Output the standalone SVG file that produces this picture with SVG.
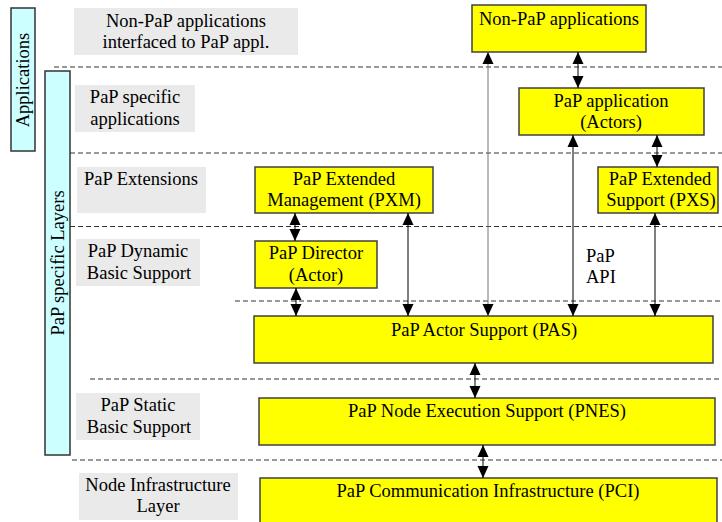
<svg xmlns="http://www.w3.org/2000/svg" width="722" height="522" viewBox="0 0 722 522" font-family="Liberation Serif, serif" font-size="18.5">
<style>
text{fill:#000;text-anchor:middle}
.lbl{fill:#eaeaea;stroke:none}
.side{fill:#ccffff;stroke:#333;stroke-width:1.5}
.node{fill:#ffff00;stroke:#404040;stroke-width:1.5}
.dash{stroke:#333;stroke-width:1;stroke-dasharray:5 3;fill:none}
.con{stroke:#000;stroke-width:1;fill:none;marker-start:url(#ah);marker-end:url(#ah)}
.gray{stroke:#777}
</style>
<defs>
<marker id="ah" markerUnits="userSpaceOnUse" markerWidth="12" markerHeight="14" viewBox="0 0 12 14" refX="12" refY="7" orient="auto-start-reverse">
<path d="M0,1.5 L12,7 L0,12.5 Z" fill="#000"/>
</marker>
</defs>
<g id="layers">
<rect class="lbl" x="74" y="8" width="224" height="47"/>
<text x="186" y="27">Non-PaP applications</text>
<text x="186" y="48">interfaced to PaP appl.</text>
<rect class="lbl" x="75" y="85" width="120" height="47"/>
<text x="135" y="103">PaP specific</text>
<text x="135" y="125">applications</text>
<rect class="lbl" x="77" y="167" width="129" height="46"/>
<text x="141" y="185">PaP Extensions</text>
<rect class="lbl" x="76" y="239" width="124" height="47"/>
<text x="138" y="257">PaP Dynamic</text>
<text x="139" y="279">Basic Support</text>
<rect class="lbl" x="76" y="393" width="124" height="47"/>
<text x="138" y="411">PaP Static</text>
<text x="139" y="433">Basic Support</text>
<rect class="lbl" x="79" y="473" width="159" height="47"/>
<text x="158" y="491">Node Infrastructure</text>
<text x="158" y="512">Layer</text>
</g>
<g id="side-applications">
<rect class="side" x="11" y="8" width="24" height="143"/>
<text transform="translate(29,80) rotate(-90)">Applications</text>
</g>
<g id="side-pap-layers">
<rect class="side" x="45" y="71" width="25" height="384"/>
<text transform="translate(64,263) rotate(-90)">PaP specific Layers</text>
</g>
<g id="separators">
<line class="dash" x1="54" y1="67" x2="722" y2="67"/>
<line class="dash" x1="70" y1="153" x2="722" y2="153"/>
<line class="dash" x1="70" y1="226.5" x2="722" y2="226.5"/>
<line class="dash" x1="235" y1="301" x2="722" y2="301"/>
<line class="dash" x1="90" y1="379" x2="722" y2="379"/>
<line class="dash" x1="72" y1="460" x2="722" y2="460"/>
</g>
<g id="non-pap-apps">
<rect class="node" x="472" y="5" width="174" height="47"/>
<text x="559" y="25">Non-PaP applications</text>
</g>
<g id="pap-application">
<rect class="node" x="519" y="88" width="185" height="47"/>
<text x="611" y="107">PaP application</text>
<text x="611" y="128">(Actors)</text>
</g>
<g id="pxm">
<rect class="node" x="255" y="167" width="178" height="46"/>
<text x="344" y="185">PaP Extended</text>
<text x="344" y="206">Management (PXM)</text>
</g>
<g id="pxs">
<rect class="node" x="598" y="167" width="120" height="46"/>
<text x="660" y="185">PaP Extended</text>
<text x="661" y="206">Support (PXS)</text>
</g>
<g id="director">
<rect class="node" x="255" y="241" width="122" height="47"/>
<text x="316" y="259">PaP Director</text>
<text x="316" y="281">(Actor)</text>
</g>
<g id="pas">
<rect class="node" x="254" y="316" width="459" height="47"/>
<text x="484" y="336">PaP Actor Support (PAS)</text>
</g>
<g id="pnes">
<rect class="node" x="259" y="398" width="456" height="47"/>
<text x="487" y="417">PaP Node Execution Support (PNES)</text>
</g>
<g id="pci">
<rect class="node" x="260" y="478" width="457" height="50"/>
<text x="488" y="497">PaP Communication Infrastructure (PCI)</text>
</g>
<g id="api-label">
<text x="586" y="262" text-anchor="start" style="text-anchor:start">PaP</text>
<text x="586" y="283" text-anchor="start" style="text-anchor:start">API</text>
</g>
<g id="connectors">
<line class="con" x1="578" y1="52" x2="578" y2="88"/>
<line class="con gray" x1="488" y1="52" x2="488" y2="316"/>
<line class="con" x1="573" y1="135" x2="573" y2="316"/>
<line class="con" x1="657" y1="135" x2="657" y2="167"/>
<line class="con" x1="295" y1="213" x2="295" y2="241"/>
<line class="con" x1="296" y1="288" x2="296" y2="316"/>
<line class="con" x1="408" y1="213" x2="408" y2="316"/>
<line class="con" x1="655" y1="213" x2="655" y2="316"/>
<line class="con" x1="475" y1="363" x2="475" y2="398"/>
<line class="con" x1="483" y1="445" x2="483" y2="478"/>
</g>
</svg>
